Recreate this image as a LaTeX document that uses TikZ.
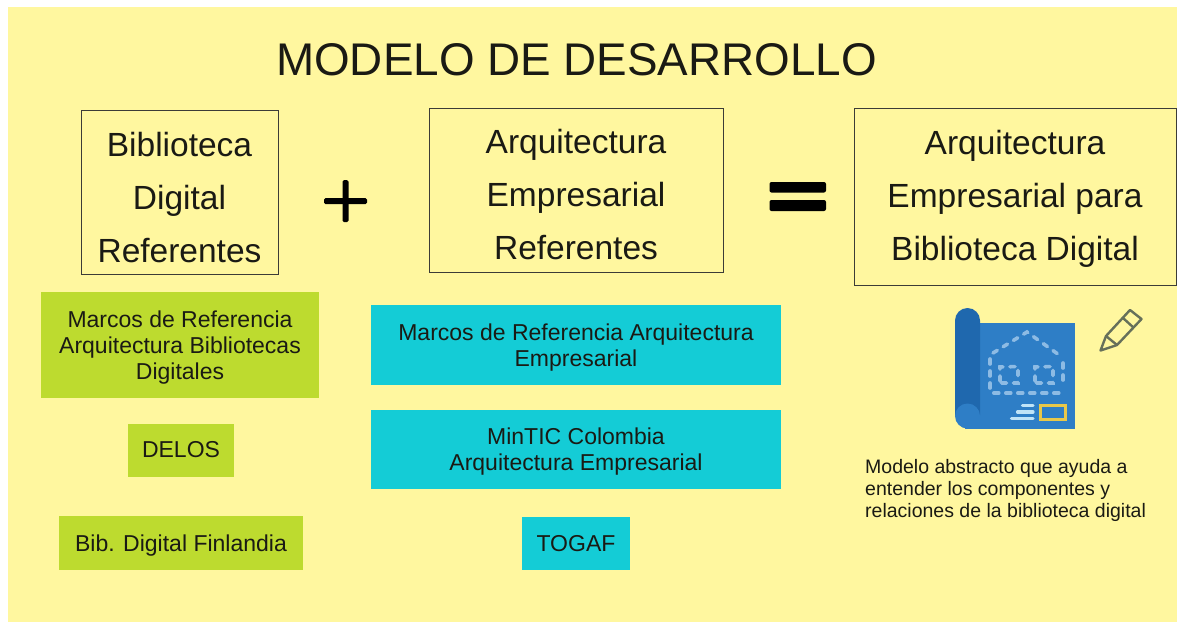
\documentclass[tikz,border=0pt]{standalone}
\usepackage{fontspec}
\setmainfont{Liberation Sans}
\definecolor{bgy}{HTML}{FFF79F}
\definecolor{lime}{HTML}{BDDB2F}
\definecolor{cyanb}{HTML}{14CCD6}
\definecolor{bpA}{HTML}{2E7EC6}
\definecolor{bpB}{HTML}{1F68AE}
\definecolor{bpD}{HTML}{8DBBE4}
\definecolor{bpL}{HTML}{BFE3F7}
\definecolor{bpY}{HTML}{E8C84A}
\definecolor{pen}{HTML}{66705A}
\definecolor{ink}{HTML}{1A1A14}
\tikzset{
 refbox/.style={draw=ink!85,line width=.9pt,inner sep=0pt,align=center,text=ink,font=\fontsize{33.5}{53}\selectfont},
 limebox/.style={fill=lime,inner sep=0pt,align=center,text=ink,font=\fontsize{23}{26}\selectfont},
 cyanbox/.style={fill=cyanb,inner sep=0pt,align=center,text=ink,font=\fontsize{23}{26}\selectfont},
 sizedbox/.style args={#1x#2}{minimum width=#1pt,minimum height=#2pt},
}
\begin{document}
\begin{tikzpicture}[x=1pt,y=-1pt]
\useasboundingbox (0,0) rectangle (1177,622);
\fill[white] (0,0) rectangle (1177,622);
\fill[bgy] (8,7) rectangle (1177,622);
\node[text=ink,inner sep=0pt,font=\fontsize{45.8}{50}\selectfont] (title) at (576.5,60) {MODELO DE DESARROLLO};
\node[refbox,sizedbox=197x164,text height=139.5pt] (a) at (179.5,192.5) {Biblioteca\\Digital\\Referentes};
\node[refbox,sizedbox=294x164,text height=139pt] (b) at (576,190) {Arquitectura\\Empresarial\\Referentes};
\node[refbox,sizedbox=322x177,text height=133pt] (c) at (1015,197) {Arquitectura\\Empresarial para\\Biblioteca Digital};
\node[limebox,sizedbox=278x106,text height=73pt] (g1) at (180,345) {Marcos de Referencia\\Arquitectura Bibliotecas\\Digitales};
\node[limebox,sizedbox=106x53] (g2) at (181,450) {DELOS};
\node[limebox,sizedbox=244x54,text height=21pt] (g3) at (181,543) {Bib. Digital Finlandia};
\node[cyanbox,sizedbox=410x80,text height=47pt] (c1) at (576,345) {Marcos de Referencia Arquitectura\\Empresarial};
\node[cyanbox,sizedbox=410x79,text height=47pt] (c2) at (576,449.5) {MinTIC Colombia\\Arquitectura Empresarial};
\node[cyanbox,sizedbox=108x53] (c3) at (576,543.5) {TOGAF};
% plus
\fill[black,rounded corners=1.5pt] (342.5,180) rectangle (348.5,222);
\fill[black,rounded corners=1.5pt] (324,198) rectangle (367,204);
% equals
\fill[black,rounded corners=2pt] (769.5,182) rectangle (826,192.5);
\fill[black,rounded corners=2pt] (769.5,200) rectangle (826,211);
% blueprint
\fill[bpA] (965,323) rectangle (1075,428.5);
\fill[bpB] (955,415) -- (955,320.5) arc[start angle=180,end angle=0,x radius=12.5,y radius=-12.5] -- (980,415) -- cycle;
\fill[bpA] (967.5,416) circle[radius=12.5];
\fill[bpA] (967.5,416) rectangle (980,428.5);
\begin{scope}[bpD,line width=3.6pt,line cap=round,dash pattern=on 5pt off 7pt]
\draw (993,353) -- (1027,332) -- (1062,357);
\draw (990,359) -- (990,390) -- (993,393) -- (1063,393);
\draw (1063,380) -- (1063,363);
\draw (1000,381) -- (1000,367) -- (1018,366.5) -- (1018,383) -- (1001,383);
\draw (1035,381) -- (1035,367) -- (1053,366.5) -- (1053,383) -- (1036,383);
\end{scope}
\draw[bpL,line width=3.2pt,line cap=round] (1022.5,405.7) -- (1033,405.7) (1017.5,412) -- (1033,412) (1011.5,418.3) -- (1033,418.3);
\draw[bpY,line width=3pt,fill=bpA] (1040.5,405.5) rectangle (1065.5,419.5);
% pencil
\draw[pen,line width=2.4pt,line join=round] (1100.5,350.5) -- (1106,336) -- (1130,310) -- (1141.5,319) -- (1117,345) -- cycle;
\draw[pen,line width=2.4pt] (1106,336) -- (1117,345) (1123,318) -- (1134,328);
\node[inner sep=0pt,anchor=west,align=left,text=ink,font=\fontsize{19.5}{22}\selectfont] (note) at (865,490) {Modelo abstracto que ayuda a\\entender los componentes y\\relaciones de la biblioteca digital};
\end{tikzpicture}
\end{document}
